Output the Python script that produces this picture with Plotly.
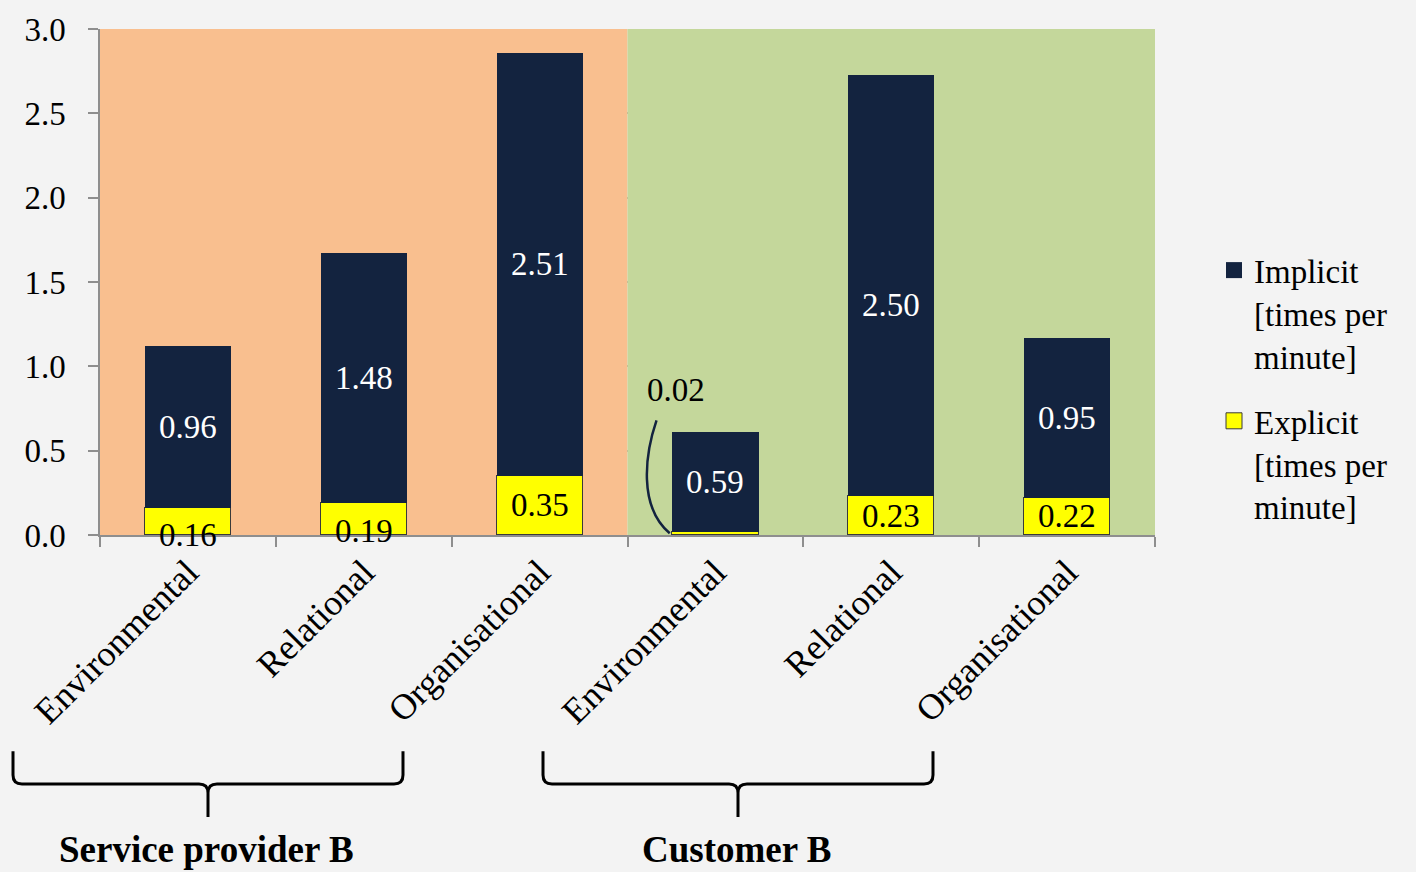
import plotly.graph_objects as go

# Categories and values (times per minute)
categories = ["Environmental", "Relational", "Organisational",
              "Environmental", "Relational", "Organisational"]
groups = ["Service provider B", "Customer B"]
explicit = [0.16, 0.19, 0.35, 0.02, 0.23, 0.22]
implicit = [0.96, 1.48, 2.51, 0.59, 2.50, 0.95]
y_ticks = [0.0, 0.5, 1.0, 1.5, 2.0, 2.5, 3.0]

# Style
FONT = "Liberation Serif"
NAVY = "#13233F"
YELLOW = "#FFFF00"
ORANGE = "#F9BF8F"
GREEN = "#C4D79B"
GRID = "#8E8E8E"
PAGE = "#F3F3F3"
EDGE = "#3A3A3A"
W, H = 1416, 872
ML, MR, MT, MB = 100, 261, 27, 337
PW, PH = W - ML - MR, H - MT - MB

# per-label vertical nudges (pixels)
explicit_shift = [-13, -12, 0, 0, 0, 0]
implicit_shift = [0, 0, 0, 0, -20, 0]

x = list(range(len(categories)))
explicit_name = "Explicit<br>[times per<br>minute]"
implicit_name = "Implicit<br>[times per<br>minute]"

fig = go.Figure()
fig.add_trace(go.Bar(
    x=x, y=explicit, name=explicit_name, showlegend=False,
    marker=dict(color=YELLOW, line=dict(color=EDGE, width=1)),
    width=0.49))
fig.add_trace(go.Bar(
    x=x, y=implicit, name=implicit_name, showlegend=False,
    marker=dict(color=NAVY, line=dict(color=NAVY, width=0)),
    width=0.49))

# Legend entries with larger square keys
fig.add_trace(go.Scatter(
    x=[None], y=[None], mode="markers", name=implicit_name, legendgroup="a",
    marker=dict(symbol="square", size=16, color=NAVY, line=dict(width=0))))
fig.add_trace(go.Scatter(
    x=[None], y=[None], mode="markers", name=explicit_name, legendgroup="b",
    marker=dict(symbol="square", size=16, color=YELLOW,
                line=dict(color=EDGE, width=1))))

# Group backgrounds
n_per = 3
for gi, col in enumerate([ORANGE, GREEN]):
    fig.add_shape(type="rect", xref="x", yref="y",
                  x0=gi * n_per - 0.5, x1=(gi + 1) * n_per - 0.5,
                  y0=0, y1=y_ticks[-1], fillcolor=col,
                  line=dict(width=0), layer="between")

annotations = []
for i, (e, m) in enumerate(zip(explicit, implicit)):
    annotations.append(dict(
        x=i, y=e + m / 2, xref="x", yref="y", text=f"{m:.2f}",
        showarrow=False, yshift=implicit_shift[i],
        font=dict(family=FONT, size=33, color="white")))
    if e >= 0.1:
        annotations.append(dict(
            x=i, y=e / 2, xref="x", yref="y", text=f"{e:.2f}",
            showarrow=False, yshift=explicit_shift[i],
            font=dict(family=FONT, size=33, color="black")))
    else:
        # small segment: label above with a curved leader line
        annotations.append(dict(
            x=i - 0.227, y=e + m + 0.25, xref="x", yref="y", text=f"{e:.2f}",
            showarrow=False,
            font=dict(family=FONT, size=33, color="black")))
        top_y = e + m + 0.07
        fig.add_shape(type="path", xref="x", yref="y",
                      path=(f"M {i-0.335},{top_y} "
                            f"C {i-0.40},{top_y-0.2} {i-0.44},{e+0.15} {i-0.26},{e/2}"),
                      line=dict(color=NAVY, width=2.5), layer="above")


def px_x(p):
    return (p - ML) / PW


def px_y(p):
    return (H - MB - p) / PH


# Braces under the category labels, with group titles
brace_spans = [(13, 403), (543, 933)]
for (a, b), title in zip(brace_spans, groups):
    c = (a + b) / 2
    top, mid, tip, r = 752, 785, 818, 9
    pts = [
        ("M", a, top), ("L", a, mid - r), ("Q", a, mid, a + r, mid),
        ("L", c - r, mid), ("Q", c, mid, c, mid + r), ("L", c, tip),
        ("M", c, mid + r), ("Q", c, mid, c + r, mid),
        ("L", b - r, mid), ("Q", b, mid, b, mid - r), ("L", b, top),
    ]
    d = []
    for p in pts:
        cmd = p[0]
        coords = p[1:]
        seg = [cmd]
        for k in range(0, len(coords), 2):
            seg.append(f"{px_x(coords[k]):.5f},{px_y(coords[k+1]):.5f}")
        d.append(" ".join(seg))
    fig.add_shape(type="path", xref="paper", yref="paper", path=" ".join(d),
                  line=dict(color="black", width=3))
    annotations.append(dict(
        x=px_x(c - 2), y=px_y(851), xref="paper", yref="paper", text=f"<b>{title}</b>",
        showarrow=False, xanchor="center", yanchor="middle",
        font=dict(family=FONT, size=37, color="black")))

fig.update_layout(
    width=W, height=H,
    margin=dict(l=ML, r=MR, t=MT, b=MB),
    paper_bgcolor=PAGE, plot_bgcolor=PAGE,
    barmode="stack", bargap=0,
    annotations=annotations,
    font=dict(family=FONT, size=32, color="black"),
    legend=dict(x=px_x(1214), y=px_y(241), xanchor="left", yanchor="top",
                traceorder="grouped", tracegroupgap=19, valign="top",
                bgcolor="rgba(0,0,0,0)", font=dict(family=FONT, size=33),
                itemwidth=30, itemsizing="trace"),
    xaxis=dict(range=[-0.5, len(categories) - 0.5],
               tickvals=x, ticktext=categories, tickangle=-45,
               ticks="", showgrid=False, zeroline=False,
               showline=True, linecolor=GRID, linewidth=1.5,
               tickfont=dict(family=FONT, size=36, color="black"),
               minor=dict(tickmode="array",
                          tickvals=[i - 0.5 for i in range(len(categories) + 1)],
                          ticks="outside", ticklen=10, tickcolor=GRID,
                          tickwidth=1.5, showgrid=False)),
    yaxis=dict(range=[y_ticks[0], y_ticks[-1]], tickvals=y_ticks,
               ticktext=[f"{v:.1f}" for v in y_ticks],
               ticks="outside", ticklen=10, tickcolor=GRID, tickwidth=1.5,
               ticklabelstandoff=16,
               showgrid=True, gridcolor=GRID, gridwidth=1.5,
               zeroline=False, showline=True, linecolor=GRID, linewidth=1.5,
               tickfont=dict(family=FONT, size=33, color="black")),
)

fig.write_html("out.html")
